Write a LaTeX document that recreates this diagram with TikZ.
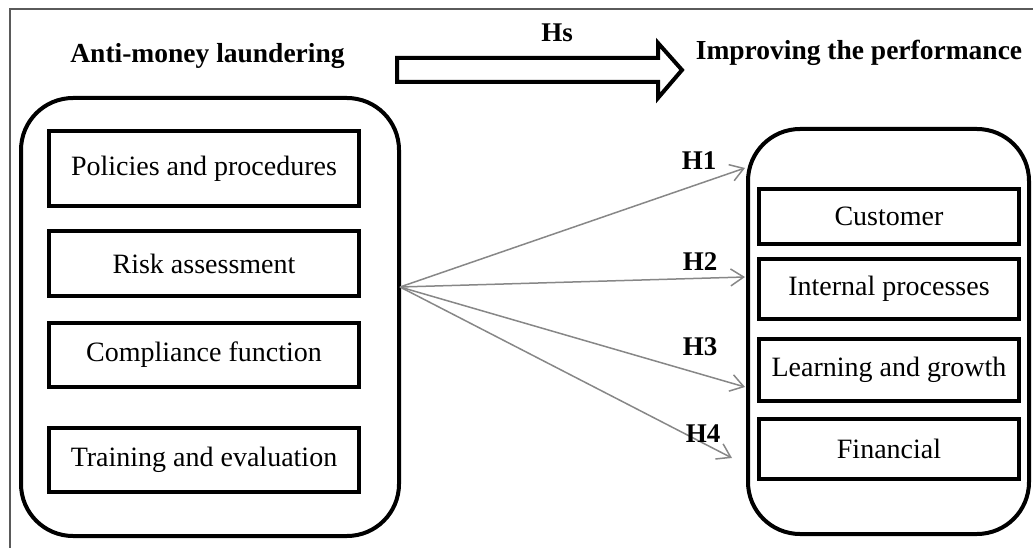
\documentclass[tikz,border=0pt]{standalone}
\usepackage{fontspec}
\setmainfont{Liberation Serif}
\usetikzlibrary{arrows.meta}
\tikzset{
  roundbox/.style={draw=black, line width=4pt, rounded corners=52pt, inner sep=0pt},
  itembox/.style={draw=black, line width=4pt, inner sep=0pt, font=\fontsize{28}{32}\selectfont},
  head/.style={font=\bfseries\fontsize{27.5}{32}\selectfont, inner sep=0pt, anchor=base},
  hlabel/.style={font=\bfseries\fontsize{27}{32}\selectfont, inner sep=0pt, anchor=base},
  harrow/.style={draw={rgb,255:red,135;green,135;blue,135}, line width=1.5pt,
    -{Straight Barb[length=13pt,width=17pt,line width=1.5pt]}},
  blockarrow/.style={draw=black, line width=4pt, line join=miter, fill=white},
  frame/.style={draw={rgb,255:red,90;green,90;blue,90}, line width=1.6pt}
}
\begin{document}
\begin{tikzpicture}[x=1pt,y=-1pt]
\useasboundingbox (0,0) rectangle (1033,548);
% outer frame (partial)
\draw[frame] (10,548) -- (10,9) -- (1033,9);

% headings
\node[head] (aml) at (207.5,63) {Anti-money laundering};
\node[head] (imp) at (859,60) {Improving the performance};
\node[hlabel] (hs) at (557,42) {Hs};
\draw[blockarrow] (397,58) -- (658,58) -- (658,43) -- (682,70) -- (658,98) -- (658,82) -- (397,82) -- cycle;

% left group
\node[roundbox, minimum width=378, minimum height=438] (L) at (210,317) {};
\node[itembox, minimum width=310, minimum height=75] (p1) at (204,168.5) {Policies and procedures};
\node[itembox, minimum width=310, minimum height=65] (p2) at (204,263.5) {Risk assessment};
\node[itembox, minimum width=310, minimum height=64] (p3) at (204,355) {Compliance function};
\node[itembox, minimum width=310, minimum height=64] (p4) at (204,460) {Training and evaluation};

% right group
\node[roundbox, minimum width=281, minimum height=405] (R) at (888.5,331.5) {};
\node[itembox, minimum width=260, minimum height=55] (q1) at (889,216.5) {Customer};
\node[itembox, minimum width=260, minimum height=60] (q2) at (889,289) {Internal processes};
\node[itembox, minimum width=260, minimum height=62] (q3) at (889,370) {Learning and growth};
\node[itembox, minimum width=260, minimum height=60] (q4) at (889,449) {Financial};

% hypothesis arrows
\coordinate (src) at (400,287);
\coordinate (t1) at (745,168);
\coordinate (t2) at (745,277);
\coordinate (t3) at (745,387);
\coordinate (t4) at (732,458);
\draw[harrow] (src) -- (t1);
\draw[harrow] (src) -- (t2);
\draw[harrow] (src) -- (t3);
\draw[harrow] (src) -- (t4);
\node[hlabel] (h1) at (699,170) {H1};
\node[hlabel] (h2) at (700,270) {H2};
\node[hlabel] (h3) at (700,355) {H3};
\node[hlabel] (h4) at (703,442) {H4};
\end{tikzpicture}
\end{document}
